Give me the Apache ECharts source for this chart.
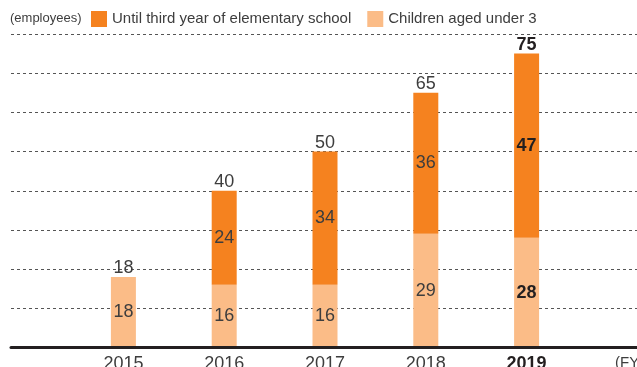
<!DOCTYPE html>
<html>
<head>
<meta charset="utf-8">
<script src="https://cdn.jsdelivr.net/npm/echarts@6/dist/echarts.min.js"></script>
<style>
html, body { margin: 0; padding: 0; background: #fff; }
#chart { width: 637px; height: 367px; }
</style>
</head>
<body>
<div id="chart"></div>
<script>
// fiscal years and employee counts
var years = ['2015', '2016', '2017', '2018', '2019'];
var underThree = [18, 16, 16, 29, 28];
var untilThirdGrade = ['-', 24, 34, 36, 47];
var totals = [18, 40, 50, 65, 75];
var boldIndex = 4;

var darkOrange = '#f5821f';
var lightOrange = '#fbbc87';
var textColor = '#3d3d3d';
var font = 'Liberation Sans';

function withBold(arr) {
    return arr.map(function (v, i) {
        if (i === boldIndex && v !== '-') {
            return { value: v, label: { fontWeight: 'bold', color: '#231f20' } };
        }
        return v;
    });
}

var chart = echarts.init(document.getElementById('chart'));
chart.setOption({
    animation: false,
    textStyle: { fontFamily: font },
    title: {
        text: '(employees)',
        left: 10,
        top: 12,
        padding: 0,
        textStyle: { fontSize: 13, fontWeight: 'normal', color: textColor, fontFamily: font }
    },
    legend: {
        left: 91,
        top: 11,
        padding: 0,
        itemWidth: 16,
        itemHeight: 16,
        itemGap: 16,
        icon: 'rect',
        data: ['Until third year of elementary school', 'Children aged under 3'],
        textStyle: { fontSize: 15, color: textColor, fontFamily: font }
    },
    grid: [
        { left: 11, right: 0, top: 34, bottom: 19.5, outerBoundsMode: 'none', containLabel: false },
        { left: 73, right: 60, top: 34, bottom: 19.5, outerBoundsMode: 'none', containLabel: false }
    ],
    xAxis: [
        {
            gridIndex: 0, type: 'value', min: 0, max: 1, z: 5,
            axisLine: { show: true, lineStyle: { color: '#231f20', width: 3 } },
            axisTick: { show: false }, axisLabel: { show: false }, splitLine: { show: false }
        },
        {
            gridIndex: 1, type: 'category', data: years,
            axisLine: { show: false }, axisTick: { show: false },
            axisLabel: {
                margin: 8,
                fontSize: 18,
                color: textColor,
                formatter: function (v, i) { return i === boldIndex ? '{b|' + v + '}' : v; },
                rich: { b: { fontSize: 18, fontWeight: 'bold', color: '#231f20' } }
            },
            name: '(FY)',
            nameLocation: 'end',
            nameGap: 38,
            nameTextStyle: { fontSize: 15, color: textColor, align: 'left', verticalAlign: 'top', padding: [8, 0, 0, 0] }
        }
    ],
    yAxis: [
        {
            gridIndex: 0, type: 'value', min: 0, max: 80, interval: 10,
            axisLine: { show: false }, axisTick: { show: false }, axisLabel: { show: false },
            splitLine: { show: true, lineStyle: { color: '#555', width: 1, type: [3, 3] } }
        },
        { gridIndex: 1, type: 'value', min: 0, max: 80, interval: 10, show: false }
    ],
    series: [
        {
            name: 'Children aged under 3', type: 'bar', stack: 'total',
            xAxisIndex: 1, yAxisIndex: 1, barWidth: 25,
            itemStyle: { color: lightOrange },
            label: { show: true, position: 'inside', fontSize: 18, color: textColor },
            data: withBold(underThree)
        },
        {
            name: 'Until third year of elementary school', type: 'bar', stack: 'total',
            xAxisIndex: 1, yAxisIndex: 1, barWidth: 25,
            itemStyle: { color: darkOrange },
            label: { show: true, position: 'inside', fontSize: 18, color: textColor },
            data: withBold(untilThirdGrade)
        },
        {
            name: 'total', type: 'bar', stack: 'total',
            xAxisIndex: 1, yAxisIndex: 1, barWidth: 25,
            itemStyle: { color: 'transparent' },
            label: {
                show: true, position: 'top', distance: 0, fontSize: 18, color: textColor,
                formatter: function (p) { return totals[p.dataIndex]; }
            },
            data: totals.map(function (v, i) {
                if (i === boldIndex) {
                    return { value: 0, label: { fontWeight: 'bold', color: '#231f20' } };
                }
                return 0;
            })
        }
    ]
});
</script>
</body>
</html>
